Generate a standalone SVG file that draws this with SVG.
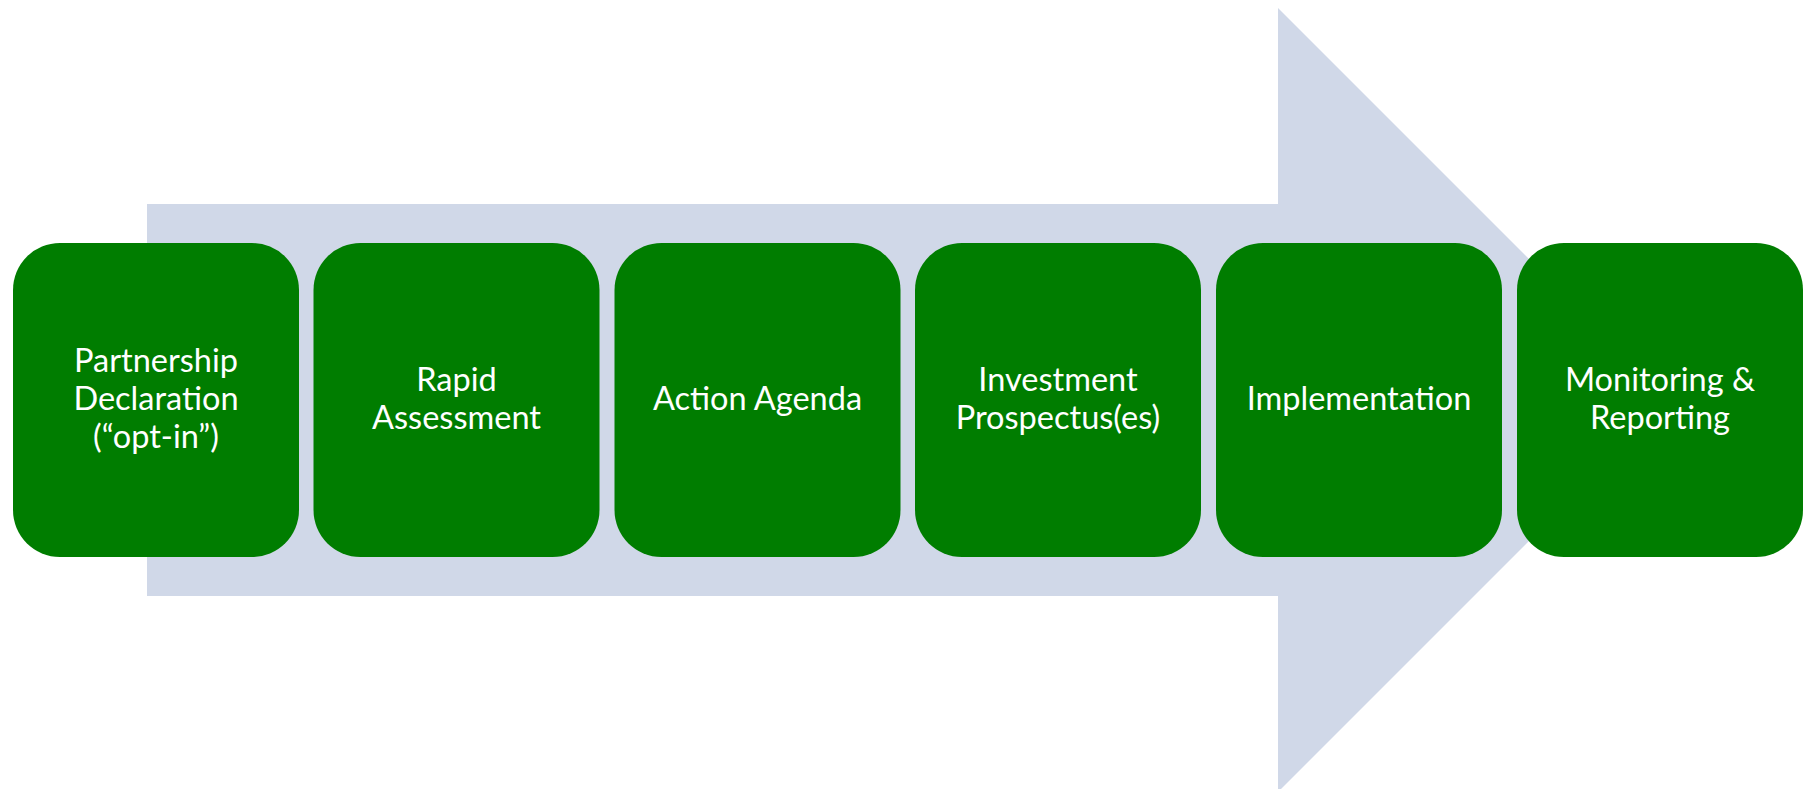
<svg xmlns="http://www.w3.org/2000/svg" width="1805" height="789" viewBox="0 0 1805 789">
<style>
.box{fill:#007D00;}
.lbl{fill:#FFFFFF;font-family:Lato,"Open Sans",sans-serif;font-size:32.5px;text-anchor:middle;}
</style>
<rect width="1805" height="789" fill="#FFFFFF"/>
<g id="connectors">
<polygon points="147,204 1278,204 1278,8 1670,400 1278,792 1278,596 147,596" fill="#D0D8E8"/>
</g>
<g id="n1"><rect class="box" x="13" y="243" width="286" height="314" rx="47"/>
<text class="lbl" x="156" y="372">Partnership</text><text class="lbl" x="156" y="410">Declaration</text><text class="lbl" x="156" y="448">(“opt-in”)</text></g>
<g id="n2"><rect class="box" x="313.5" y="243" width="286" height="314" rx="47"/>
<text class="lbl" x="456.5" y="391">Rapid</text><text class="lbl" x="456.5" y="429">Assessment</text></g>
<g id="n3"><rect class="box" x="614.5" y="243" width="286" height="314" rx="47"/>
<text class="lbl" x="757.5" y="410">Action Agenda</text></g>
<g id="n4"><rect class="box" x="915" y="243" width="286" height="314" rx="47"/>
<text class="lbl" x="1058" y="391">Investment</text><text class="lbl" x="1058" y="429">Prospectus(es)</text></g>
<g id="n5"><rect class="box" x="1216" y="243" width="286" height="314" rx="47"/>
<text class="lbl" x="1359" y="410">Implementation</text></g>
<g id="n6"><rect class="box" x="1517" y="243" width="286" height="314" rx="47"/>
<text class="lbl" x="1660" y="391">Monitoring &amp;</text><text class="lbl" x="1660" y="429">Reporting</text></g>
</svg>
